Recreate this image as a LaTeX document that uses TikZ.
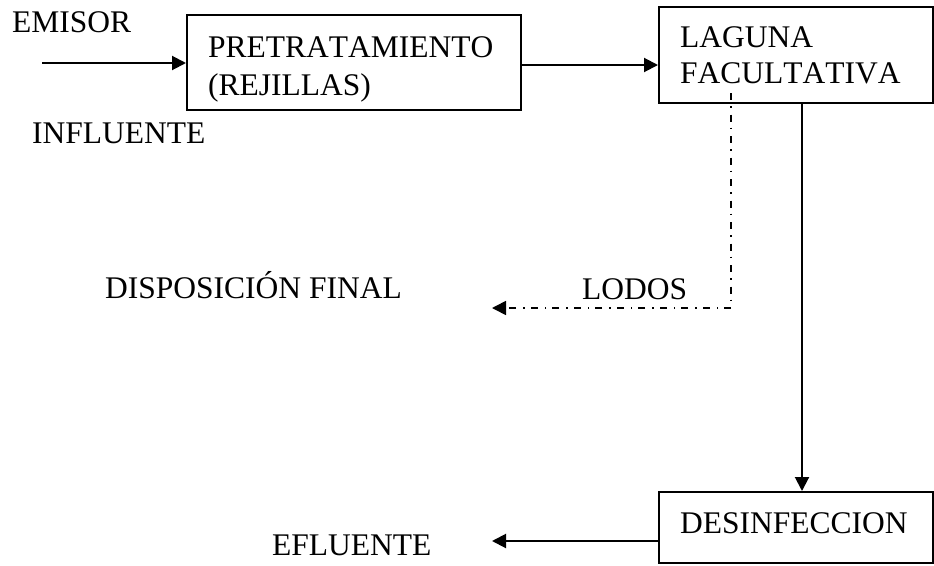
\documentclass[tikz,border=0pt]{standalone}
\usepackage{fontspec}
\setmainfont{Liberation Serif}[Kerning=Off]
\usetikzlibrary{arrows.meta}
\begin{document}
\begin{tikzpicture}[x=1pt,y=-1pt,
  box/.style={draw,line width=2pt,minimum width=#1,inner sep=0pt},
  lbl/.style={anchor=base west,inner sep=0pt,font=\fontsize{31.5}{36}\selectfont},
  tip/.style={-{Triangle[length=14pt,width=14pt]}},
  arr/.style={line width=2pt,tip},
  lodos/.style={line width=1.7pt,dash pattern=on 7pt off 6pt on 1.5pt off 7pt,tip}]
\useasboundingbox (0,0) rectangle (934,565);
% boxes
\node[box=334pt,minimum height=95pt] (pre) at (354,62.5) {};
\node[box=274pt,minimum height=96pt] (lag) at (796,55) {};
\node[box=274pt,minimum height=71pt] (des) at (796,527.5) {};
% texts
\node[lbl] (emisor) at (12,32) {EMISOR};
\node[lbl] (influ) at (32,143) {INFLUENTE};
\node[lbl] (pre1) at (208,57) {PRETRATAMIENTO};
\node[lbl] (pre2) at (208,95) {(REJILLAS)};
\node[lbl] (lag1) at (680,47) {LAGUNA};
\node[lbl] (lag2) at (680,83) {FACULTATIVA};
\node[lbl] (dispo) at (105,298) {DISPOSICIÓN FINAL};
\node[lbl] (lodtxt) at (582,299) {LODOS};
\node[lbl] (des1) at (680,533) {DESINFECCION};
\node[lbl] (eflu) at (272,555) {EFLUENTE};
% coordinates
\coordinate (in) at (42,63);
\coordinate (disp) at (492,308);
\coordinate (out) at (492,541);
% connectors
\draw[arr] (in) -- (in -| pre.west);
\draw[arr] ([yshift=-2.5pt]pre.east) -- ([yshift=-2.5pt]pre.east -| lag.west);
\draw[arr] ([xshift=6pt]lag.south) -- ([xshift=6pt]des.north);
\draw[arr] ([yshift=-13.5pt]des.west) -- (out);
\draw[lodos] ([xshift=-65pt,yshift=11pt]lag.south) |- (disp);
\end{tikzpicture}
\end{document}
